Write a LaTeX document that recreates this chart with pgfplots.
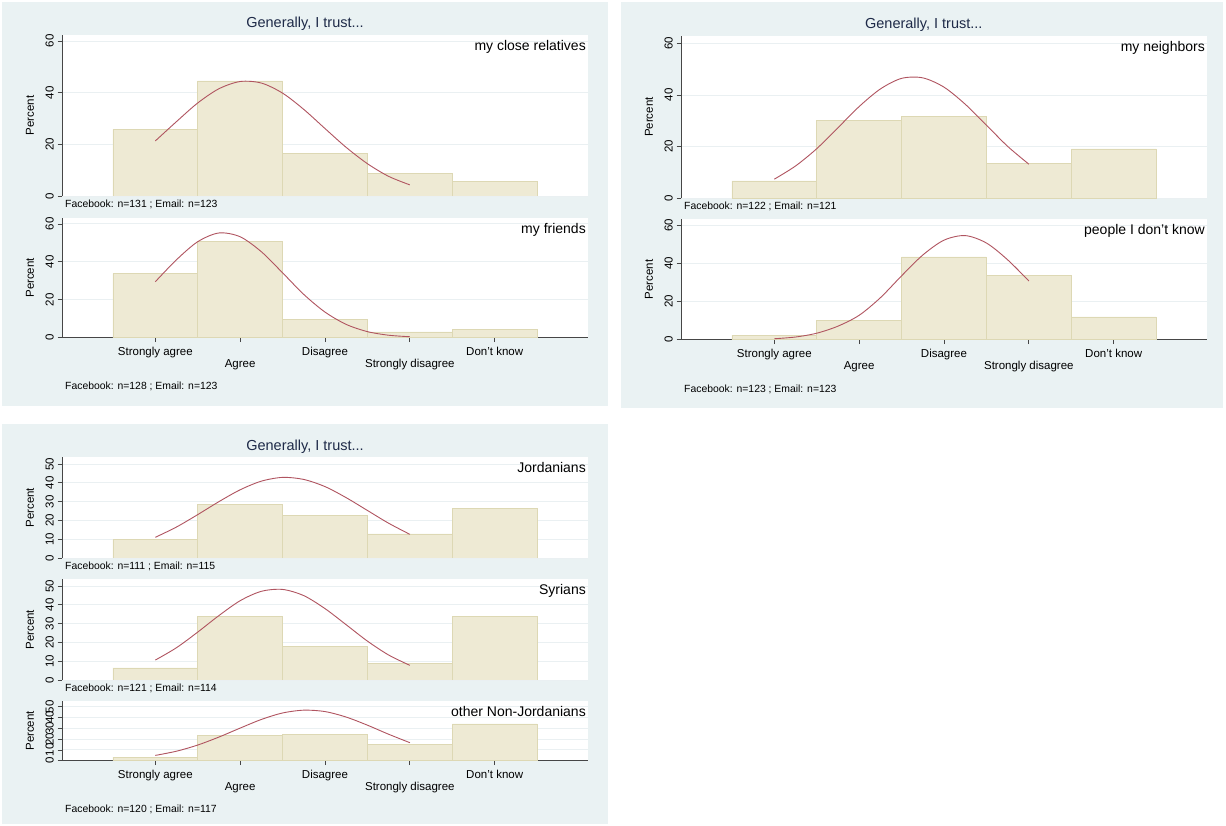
\documentclass[border=0pt]{standalone}
\usepackage{fontspec}
\setmainfont{Liberation Sans}
\usepackage{pgfplots}
\pgfplotsset{compat=1.18}
\definecolor{panelbg}{RGB}{234,242,243}
\definecolor{barfill}{RGB}{238,234,212}
\definecolor{baredge}{RGB}{221,216,180}
\definecolor{curvecol}{RGB}{176,84,96}
\definecolor{gridcol}{RGB}{234,240,242}
\definecolor{axcol}{RGB}{70,70,70}
\definecolor{titlecol}{RGB}{30,42,72}
\tikzset{sub/.style={anchor=north east, inner sep=0pt, xshift=-2pt, yshift=-5pt, font=\fontsize{14}{16}\selectfont}}
\pgfplotsset{
  trust/.style={
    scale only axis, width=526pt,
    xmin=-0.1, xmax=6.1, ymin=0,
    axis background/.style={fill=white},
    axis y line*=left,
    tick align=outside, major tick length=4.5pt,
    tick style={draw=axcol, line width=0.7pt},
    axis line style={draw=axcol, line width=0.7pt},
    ymajorgrids=true, major grid style={draw=gridcol, line width=0.8pt},
    /pgf/number format/assume math mode=true,
    yticklabel style={font=\fontsize{11.5}{12}\selectfont, xshift=-3.5pt, rotate=90, anchor=south, inner sep=0pt},
    every axis y label/.style={at={(rel axis cs:0,0.5)}, xshift=-32pt, rotate=90, anchor=center, font=\fontsize{11.5}{12}\selectfont},
    ylabel={Percent},
  },
  trusttop/.style={trust, axis x line=none, xtick=\empty},
  trustbot/.style={trust, axis x line*=bottom,
    xtick={1,3,5}, xticklabels={Strongly agree, Disagree, Don't know},
    extra x ticks={2,4}, extra x tick labels={Agree, Strongly disagree},
    xticklabel style={font=\fontsize{11.5}{12}\selectfont, anchor=base, yshift=-13.8pt},
    extra x tick style={xticklabel style={yshift=-11.2pt}},
  },
  bars/.style={ybar, bar width=1, bar shift=0pt, fill=barfill, draw=baredge, line width=0.7pt},
  curve/.style={smooth, no marks, draw=curvecol, line width=0.9pt},
}
\begin{document}
\begin{tikzpicture}
\fill[white] (0pt,0pt) rectangle (1226pt,826pt);
\fill[panelbg] (2pt,420pt) rectangle (608pt,824pt);
\fill[panelbg] (621pt,418pt) rectangle (1223pt,824pt);
\fill[panelbg] (2pt,2pt) rectangle (608pt,402pt);

\node[anchor=base, font=\fontsize{14.5}{16}\selectfont, text=titlecol] at (305pt,798.8pt) {Generally, I trust...};
\node[anchor=base, font=\fontsize{14.5}{16}\selectfont, text=titlecol] at (923.8pt,797.2pt) {Generally, I trust...};
\node[anchor=base, font=\fontsize{14.5}{16}\selectfont, text=titlecol] at (305pt,375.8pt) {Generally, I trust...};

\begin{scope}[every node/.style={anchor=base west, inner sep=0pt, font=\fontsize{10.4}{12}\selectfont}]
\node at (65pt,618.3pt) {Facebook: n=131 ; Email: n=123};
\node at (65pt,436.3pt) {Facebook: n=128 ; Email: n=123};
\node at (684pt,616pt) {Facebook: n=122 ; Email: n=121};
\node at (684pt,433.6pt) {Facebook: n=123 ; Email: n=123};
\node at (65pt,256.6pt) {Facebook: n=111 ; Email: n=115};
\node at (65pt,134.6pt) {Facebook: n=121 ; Email: n=114};
\node at (65pt,13pt) {Facebook: n=120 ; Email: n=117};
\end{scope}

% Panel 1 top: my close relatives
\begin{axis}[trusttop, at={(62pt,630pt)}, anchor=south west, height=161pt, ymax=62.3, ytick={0,20,40,60}]
\addplot[bars] coordinates {(1,25.8) (2,44.5) (3,16.5) (4,8.8) (5,5.5)};
\addplot[curve] coordinates {(1,21.3)(1.25,28.8)(1.5,36.0)(1.75,41.5)(2,44.3)(2.25,43.7)(2.5,39.8)(2.75,33.5)(3,26.1)(3.25,18.8)(3.5,12.5)(3.75,7.6)(4,4.3)};
\node[sub] at (rel axis cs:1,1) {my close relatives};
\end{axis}

% Panel 1 bottom: my friends
\begin{axis}[trustbot, at={(62pt,488.3pt)}, anchor=south west, height=119.7pt, ymax=63.1, ytick={0,20,40,60}]
\addplot[bars] coordinates {(1,33.7) (2,50.9) (3,9.6) (4,3.0) (5,4.2)};
\addplot[curve] coordinates {(1,29.5)(1.25,41.1)(1.5,50.6)(1.75,55.2)(2,53.2)(2.25,45.3)(2.5,34.2)(2.75,22.8)(3,13.5)(3.25,7.0)(3.5,3.2)(3.75,1.3)(4,0.5)};
\node[sub] at (rel axis cs:1,1) {my friends};
\end{axis}

% Panel 2 top: my neighbors
\begin{axis}[trusttop, at={(681pt,627.7pt)}, anchor=south west, height=162.3pt, ymax=62.8, ytick={0,20,40,60}]
\addplot[bars] coordinates {(1,6.7) (2,30.2) (3,31.6) (4,13.4) (5,19.1)};
\addplot[curve] coordinates {(1,7.4)(1.25,12.5)(1.5,19.2)(1.75,27.3)(2,35.5)(2.25,42.3)(2.5,46.4)(2.75,46.6)(3,43.0)(3.25,36.4)(3.5,28.3)(3.75,20.1)(4,13.2)};
\node[sub] at (rel axis cs:1,1) {my neighbors};
\end{axis}

% Panel 2 bottom: people I don't know
\begin{axis}[trustbot, at={(681pt,486.3pt)}, anchor=south west, height=120.7pt, ymax=63.3, ytick={0,20,40,60}]
\addplot[bars] coordinates {(1,2.4) (2,10.0) (3,43.4) (4,33.6) (5,11.9)};
\addplot[curve] coordinates {(1,0.5)(1.25,1.4)(1.5,3.4)(1.75,7.1)(2,12.8)(2.25,22.0)(2.5,33.5)(2.75,44.4)(3,52.2)(3.25,54.6)(3.5,50.7)(3.75,41.9)(4,30.8)};
\node[sub] at (rel axis cs:1,1) {people I don't know};
\end{axis}

% Panel 3 top: Jordanians
\begin{axis}[trusttop, at={(62pt,268pt)}, anchor=south west, height=100.7pt, ymax=53.6, ytick={0,10,20,30,40,50}]
\addplot[bars] coordinates {(1,9.9) (2,28.4) (3,22.5) (4,12.8) (5,26.4)};
\addplot[curve] coordinates {(1,11.0)(1.25,16.5)(1.5,23.1)(1.75,30.0)(2,36.3)(2.25,40.9)(2.5,42.9)(2.75,41.8)(3,38.0)(3.25,32.1)(3.5,25.3)(3.75,18.5)(4,12.6)};
\node[sub] at (rel axis cs:1,1) {Jordanians};
\end{axis}

% Panel 3 middle: Syrians
\begin{axis}[trusttop, at={(62pt,146pt)}, anchor=south west, height=100.7pt, ymax=53.6, ytick={0,10,20,30,40,50}]
\addplot[bars] coordinates {(1,6.4) (2,34.0) (3,17.9) (4,8.9) (5,33.7)};
\addplot[curve] coordinates {(1,10.6)(1.25,17.2)(1.5,25.5)(1.75,34.3)(2,42.2)(2.25,47.2)(2.5,48.2)(2.75,44.9)(3,38.0)(3.25,29.4)(3.5,20.7)(3.75,13.3)(4,7.8)};
\node[sub] at (rel axis cs:1,1) {Syrians};
\end{axis}

% Panel 3 bottom: other Non-Jordanians
\begin{axis}[trustbot, at={(62pt,65.3pt)}, anchor=south west, height=59.7pt, ymax=55.3, ytick={0,10,20,30,40,50}]
\addplot[bars] coordinates {(1,3.4) (2,23.8) (3,24.7) (4,15.4) (5,34.0)};
\addplot[curve] coordinates {(1,4.9)(1.25,8.8)(1.5,14.5)(1.75,21.9)(2,30.2)(2.25,38.2)(2.5,44.2)(2.75,46.8)(3,45.5)(3.25,40.4)(3.5,32.9)(3.75,24.5)(4,16.7)};
\node[sub] at (rel axis cs:1,1) {other Non-Jordanians};
\end{axis}

\pgfresetboundingbox
\useasboundingbox (0pt,0pt) rectangle (1226pt,826pt);
\end{tikzpicture}
\end{document}
